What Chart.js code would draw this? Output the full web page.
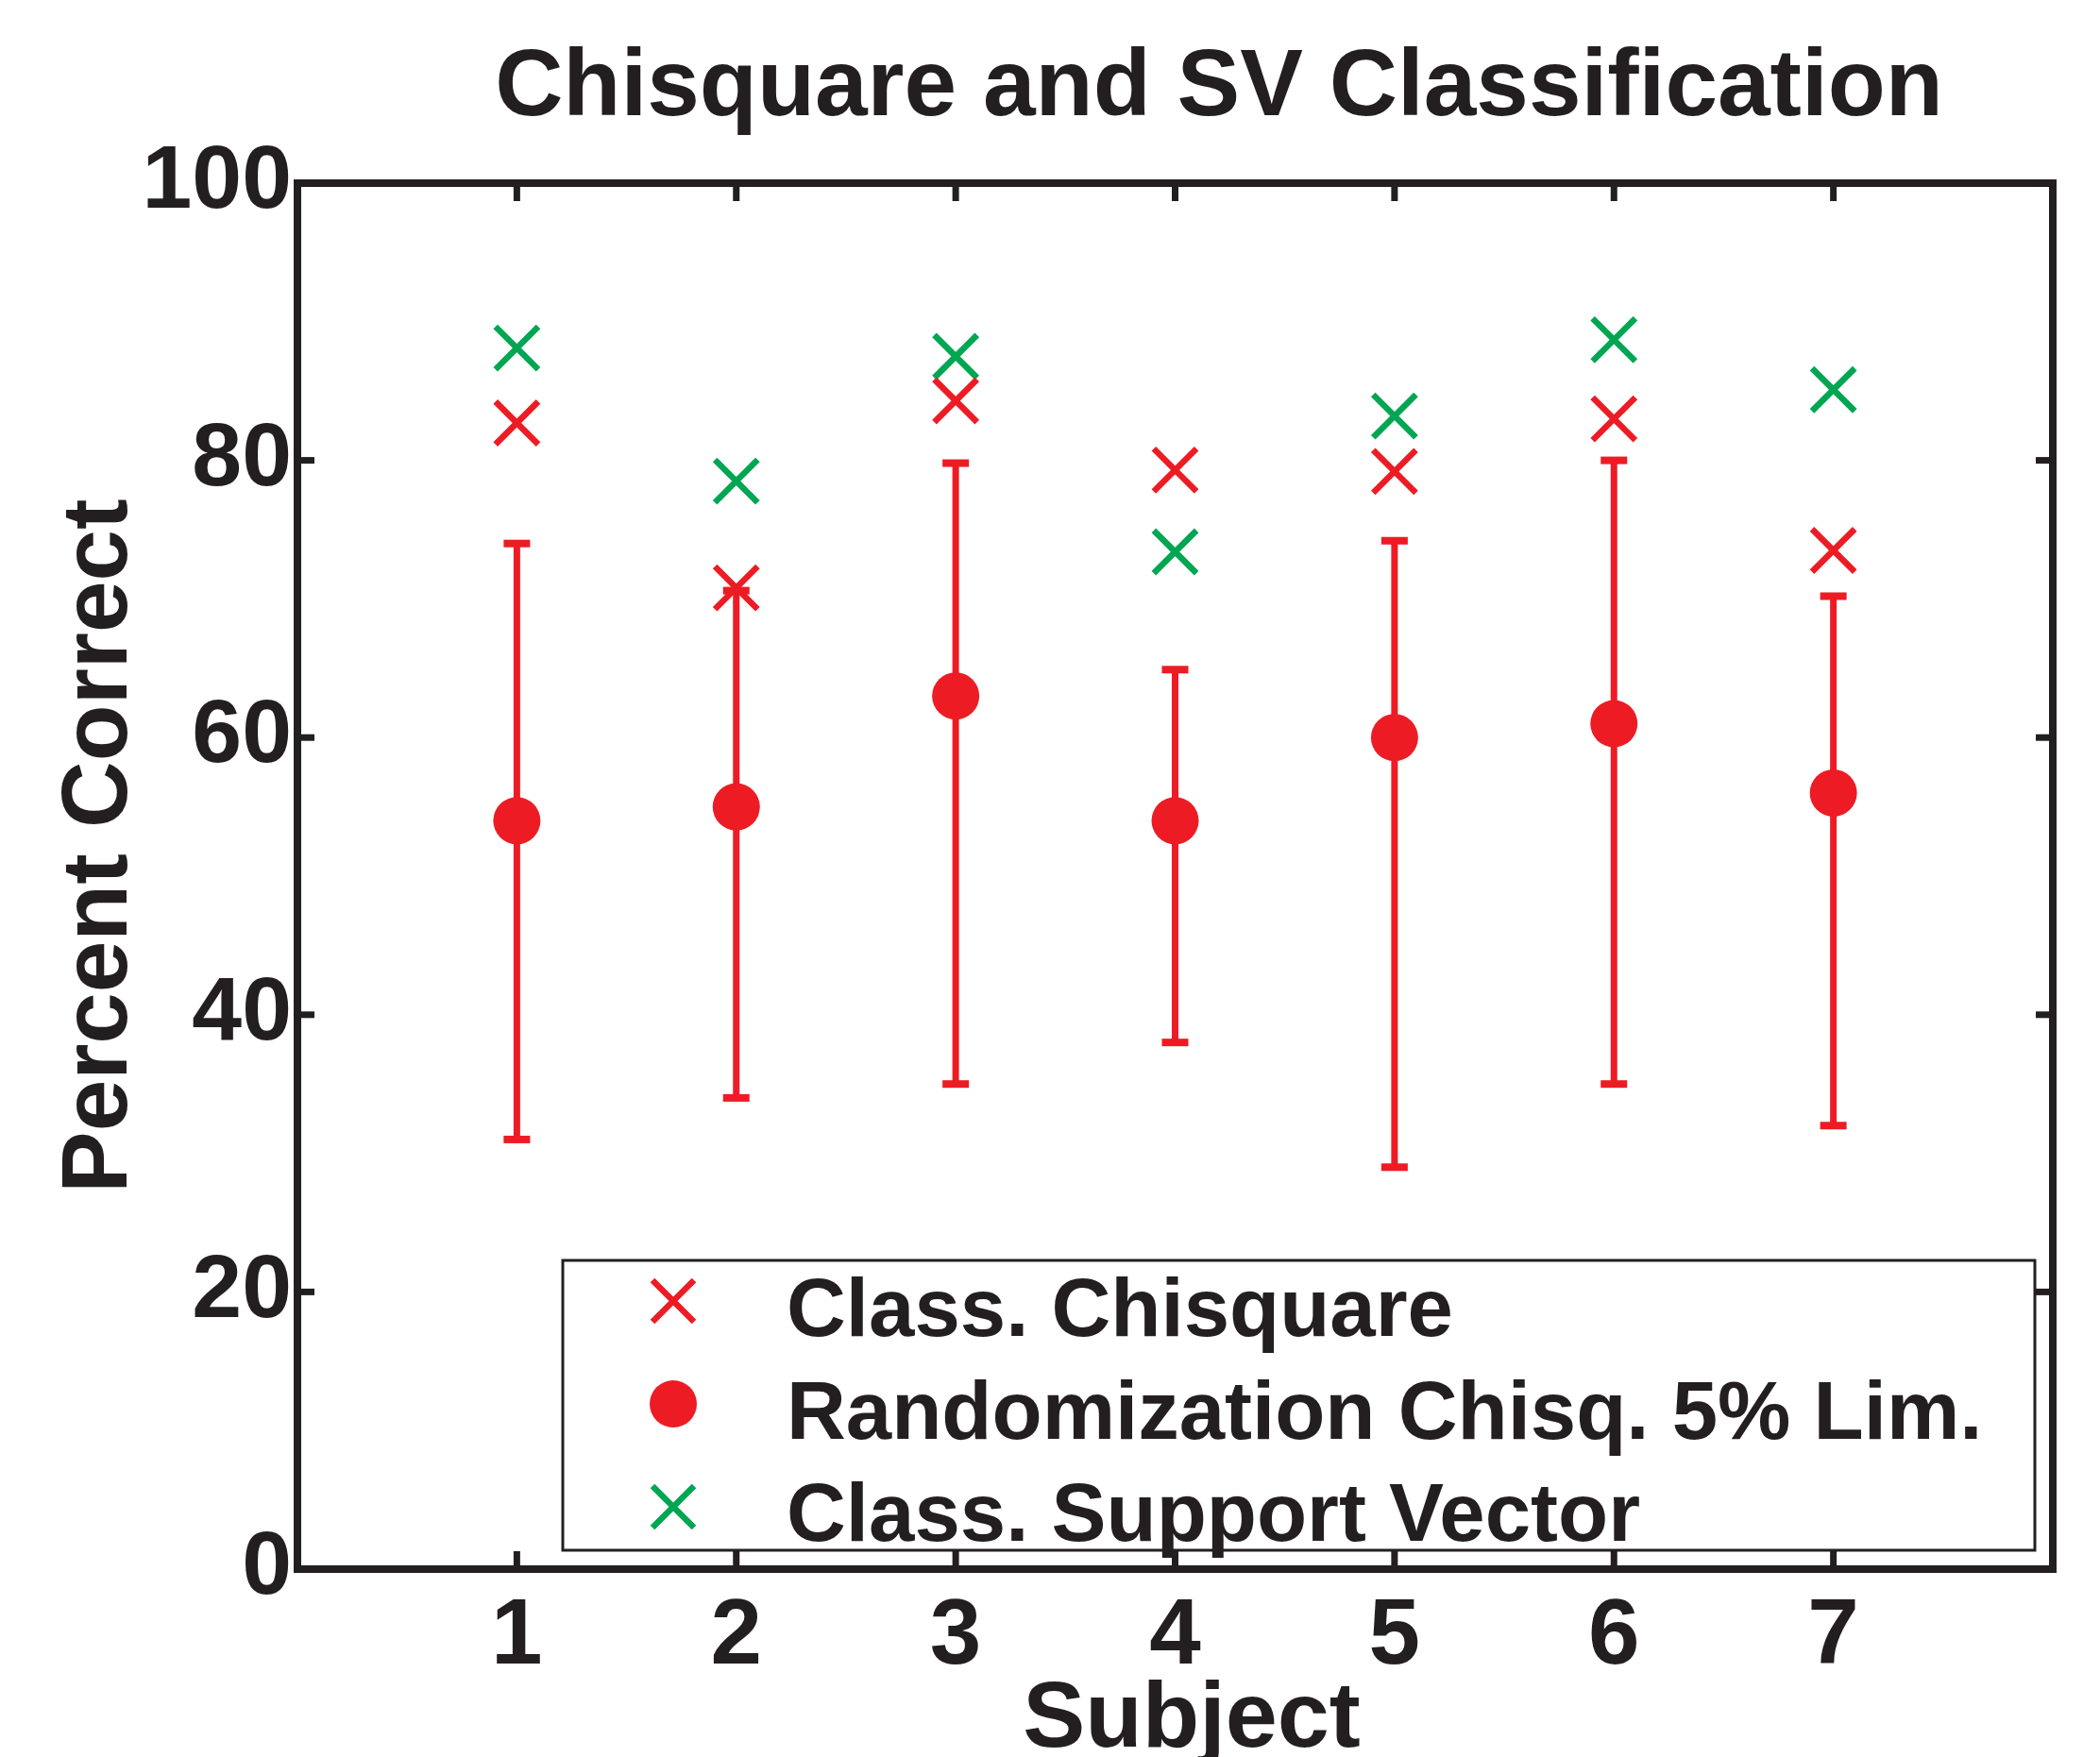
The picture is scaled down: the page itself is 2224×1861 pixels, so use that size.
<!DOCTYPE html>
<html>
<head>
<meta charset="utf-8">
<title>Chisquare and SV Classification</title>
<script src="https://cdn.jsdelivr.net/npm/chart.js@4/dist/chart.umd.min.js"></script>
<style>
  html, body { margin: 0; padding: 0; background: #fff; }
  #wrap { width: 2224px; height: 1861px; position: relative; }
</style>
</head>
<body>
<div id="wrap"><canvas id="chart"></canvas></div>
<script>
// data
const subjects = [1, 2, 3, 4, 5, 6, 7];
const chisqClass = [82.7, 70.8, 84.3, 79.3, 79.2, 83.0, 73.5];
const randMean = [54, 55, 63, 54, 60, 61, 56];
const randLow = [31, 34, 35, 38, 29, 35, 32];
const randHigh = [74, 70.6, 79.8, 64.9, 74.2, 80, 70.2];
const svClass = [88.1, 78.5, 87.5, 73.4, 83.2, 88.7, 85.1];
const yTicks = [0, 20, 40, 60, 80, 100];
const xTicks = subjects;

const labelChisq = 'Class. Chisquare';
const labelRand = 'Randomization Chisq. 5% Lim.';
const labelSV = 'Class. Support Vector';

const RED = '#ED1C24';
const GREEN = '#00A651';
const INK = '#231F20';
const FONT = '"Liberation Sans", Arial, Helvetica, sans-serif';

function toPoints(ys) {
    return subjects.map((s, i) => ({x: s, y: ys[i]}));
}

function drawX(ctx, x, y, h, color) {
    ctx.strokeStyle = color;
    ctx.lineWidth = 6.5;
    ctx.beginPath();
    ctx.moveTo(x - h, y - h); ctx.lineTo(x + h, y + h);
    ctx.moveTo(x + h, y - h); ctx.lineTo(x - h, y + h);
    ctx.stroke();
}

// vertical bars with caps for the randomization limits
const errorBars = {
    id: 'errorBars',
    beforeDatasetsDraw(chart) {
        const {ctx, scales: {x, y}} = chart;
        ctx.save();
        ctx.strokeStyle = RED;
        ctx.fillStyle = RED;
        ctx.lineWidth = 7;
        subjects.forEach((s, i) => {
            const px = x.getPixelForValue(s);
            const top = y.getPixelForValue(randHigh[i]);
            const bot = y.getPixelForValue(randLow[i]);
            ctx.beginPath();
            ctx.moveTo(px, top);
            ctx.lineTo(px, bot);
            ctx.stroke();
            ctx.fillRect(px - 14, top - 4, 28, 8);
            ctx.fillRect(px - 14, bot - 4, 28, 8);
        });
        ctx.restore();
    }
};

// matlab style box with inward ticks, titles and legend
const axesBox = {
    id: 'axesBox',
    afterDatasetsDraw(chart) {
        const {ctx, chartArea: a, scales: {x, y}} = chart;
        ctx.save();
        ctx.strokeStyle = INK;
        ctx.fillStyle = INK;
        ctx.lineWidth = 8;
        ctx.strokeRect(a.left, a.top, a.right - a.left, a.bottom - a.top);
        xTicks.forEach(v => {
            const px = x.getPixelForValue(v);
            ctx.fillRect(px - 3.5, a.bottom - 19, 7, 19);
            ctx.fillRect(px - 3.5, a.top, 7, 19);
        });
        yTicks.forEach(v => {
            const py = y.getPixelForValue(v);
            ctx.fillRect(a.left, py - 3.5, 18, 7);
            ctx.fillRect(a.right - 18, py - 3.5, 18, 7);
        });
        ctx.restore();
    },
    afterDraw(chart) {
        const ctx = chart.ctx;
        ctx.save();
        ctx.fillStyle = INK;
        ctx.textBaseline = 'alphabetic';
        ctx.textAlign = 'center';

        // title
        ctx.font = 'bold 100px ' + FONT;
        ctx.fillText('Chisquare and SV Classification', 1291, 122);

        // axis titles
        ctx.font = 'bold 99px ' + FONT;
        ctx.fillText('Subject', 1262, 1850);
        ctx.save();
        ctx.translate(134, 896);
        ctx.rotate(-Math.PI / 2);
        ctx.font = 'bold 98px ' + FONT;
        ctx.fillText('Percent Correct', 0, 0);
        ctx.restore();

        // legend box
        const lx = 596, ly = 1335, lw = 2155 - 596, lh = 1642 - 1335;
        ctx.fillStyle = '#fff';
        ctx.fillRect(lx, ly, lw, lh);
        ctx.strokeStyle = INK;
        ctx.lineWidth = 3;
        ctx.strokeRect(lx, ly, lw, lh);

        const mx = 713;
        drawX(ctx, mx, 1378, 22, RED);
        ctx.fillStyle = RED;
        ctx.beginPath();
        ctx.arc(mx, 1487, 25, 0, Math.PI * 2);
        ctx.fill();
        drawX(ctx, mx, 1596, 22, GREEN);

        ctx.fillStyle = INK;
        ctx.font = 'bold 87px ' + FONT;
        ctx.textAlign = 'left';
        ctx.fillText(labelChisq, 833, 1415);
        ctx.fillText(labelRand, 833, 1524);
        ctx.fillText(labelSV, 833, 1632);
        ctx.restore();
    }
};

const ctx = document.getElementById('chart');

new Chart(ctx, {
    type: 'scatter',
    data: {
        datasets: [
            {
                label: labelChisq,
                data: toPoints(chisqClass),
                pointStyle: 'crossRot',
                radius: 32,
                borderWidth: 6.5,
                borderColor: RED,
                backgroundColor: RED
            },
            {
                label: labelRand,
                data: toPoints(randMean),
                pointStyle: 'circle',
                radius: 25,
                borderWidth: 0,
                borderColor: RED,
                backgroundColor: RED
            },
            {
                label: labelSV,
                data: toPoints(svClass),
                pointStyle: 'crossRot',
                radius: 32,
                borderWidth: 6.5,
                borderColor: GREEN,
                backgroundColor: GREEN
            }
        ]
    },
    options: {
        responsive: true,
        maintainAspectRatio: false,
        animation: false,
        events: [],
        layout: {
            padding: {top: 194, right: 50, left: 0, bottom: 0}
        },
        plugins: {
            legend: {display: false},
            title: {display: false},
            tooltip: {enabled: false}
        },
        scales: {
            x: {
                type: 'linear',
                min: 0,
                max: 8,
                afterBuildTicks: axis => {
                    axis.ticks = xTicks.map(v => ({value: v}));
                },
                afterFit: axis => { axis.height = 1861 - 1662; },
                grid: {display: false, drawTicks: false},
                border: {display: false},
                ticks: {
                    autoSkip: false,
                    padding: 14,
                    color: INK,
                    font: {family: FONT, size: 98, weight: 'bold'}
                }
            },
            y: {
                min: 0,
                max: 100,
                afterBuildTicks: axis => {
                    axis.ticks = yTicks.map(v => ({value: v}));
                },
                afterFit: axis => { axis.width = 315; },
                grid: {display: false, drawTicks: false},
                border: {display: false},
                ticks: {
                    autoSkip: false,
                    padding: 6,
                    color: INK,
                    font: {family: FONT, size: 95, weight: 'bold'}
                }
            }
        }
    },
    plugins: [errorBars, axesBox]
});
</script>
</body>
</html>
